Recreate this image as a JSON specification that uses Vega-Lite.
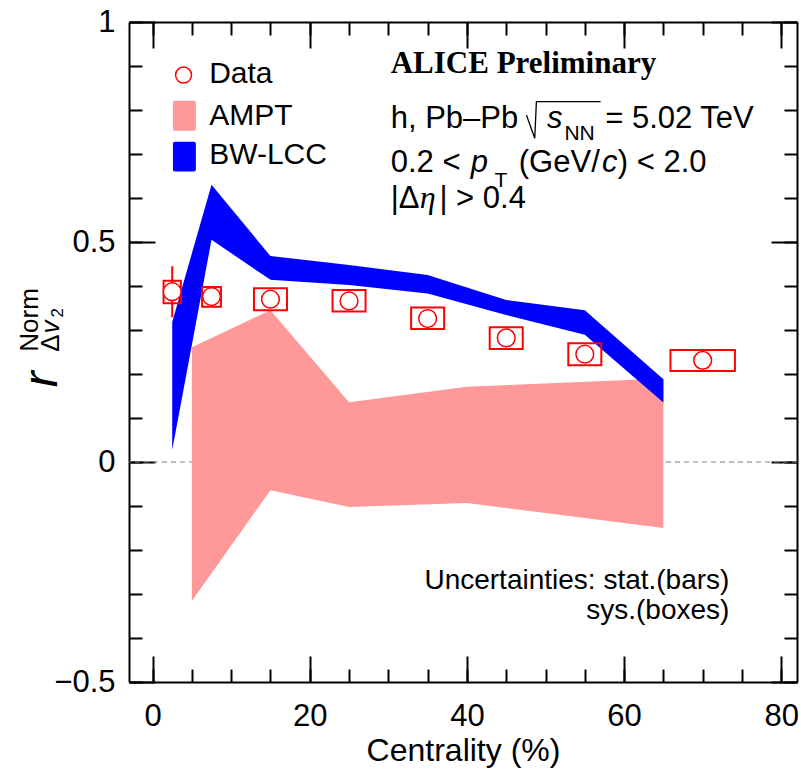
{
  "$schema": "https://vega.github.io/schema/vega-lite/v6.json",
  "width": 668,
  "height": 660,
  "autosize": {"type": "none"},
  "padding": {"left": 129, "top": 22, "right": 4, "bottom": 88},
  "background": "white",
  "config": {
    "view": {"stroke": null},
    "axis": {"grid": false, "domainColor": "black", "tickColor": "black", "domainWidth": 2, "tickWidth": 2, "labelFont": "Liberation Sans", "labelFontSize": 31, "labelColor": "black", "titleFont": "Liberation Sans", "titleFontSize": 32, "titleFontWeight": "normal", "titleColor": "black", "labelFlush": false, "labelOverlap": false, "labelBound": false}
  },
  "datasets": {
    "ampt": [
      {"x": 5, "lo": -0.316, "hi": 0.261},
      {"x": 15, "lo": -0.064, "hi": 0.345},
      {"x": 25, "lo": -0.102, "hi": 0.136},
      {"x": 40, "lo": -0.093, "hi": 0.171},
      {"x": 65, "lo": -0.15, "hi": 0.19}
    ],
    "bw": [
      {"x": 2.5, "lo": 0.027, "hi": 0.318},
      {"x": 7.5, "lo": 0.505, "hi": 0.63},
      {"x": 15, "lo": 0.414, "hi": 0.468},
      {"x": 25, "lo": 0.402, "hi": 0.448},
      {"x": 35, "lo": 0.383, "hi": 0.425},
      {"x": 45, "lo": 0.334, "hi": 0.368},
      {"x": 55, "lo": 0.289, "hi": 0.345},
      {"x": 65, "lo": 0.135, "hi": 0.188}
    ],
    "points": [
      {"x": 2.5, "y": 0.387, "xlo": 1.4, "xhi": 3.6, "slo": 0.361, "shi": 0.412, "elo": 0.329, "ehi": 0.445},
      {"x": 7.5, "y": 0.376, "xlo": 6.3, "xhi": 8.7, "slo": 0.353, "shi": 0.398, "elo": 0.356, "ehi": 0.396},
      {"x": 15, "y": 0.37, "xlo": 12.9, "xhi": 17.1, "slo": 0.345, "shi": 0.395, "elo": 0.36, "ehi": 0.38},
      {"x": 25, "y": 0.366, "xlo": 22.9, "xhi": 27.1, "slo": 0.342, "shi": 0.391, "elo": 0.356, "ehi": 0.376},
      {"x": 35, "y": 0.326, "xlo": 32.9, "xhi": 37.1, "slo": 0.302, "shi": 0.351, "elo": 0.316, "ehi": 0.336},
      {"x": 45, "y": 0.282, "xlo": 42.9, "xhi": 47.1, "slo": 0.257, "shi": 0.306, "elo": 0.272, "ehi": 0.292},
      {"x": 55, "y": 0.245, "xlo": 52.9, "xhi": 57.1, "slo": 0.22, "shi": 0.27, "elo": 0.235, "ehi": 0.255},
      {"x": 70, "y": 0.231, "xlo": 65.9, "xhi": 74.1, "slo": 0.207, "shi": 0.2545, "elo": 0.221, "ehi": 0.241}
    ]
  },
  "resolve": {"axis": {"x": "independent", "y": "independent"}},
  "layer": [
    {
      "data": {"values": [{"y": 0}]},
      "mark": {"type": "rule", "color": "#808080", "strokeDash": [5, 4], "strokeWidth": 1},
      "encoding": {"y": {"field": "y", "type": "quantitative", "scale": {"domain": [-0.5, 1], "nice": false, "zero": false}, "axis": null}}
    },
    {
      "data": {"name": "ampt"},
      "mark": {"type": "area", "color": "#ff9999", "opacity": 1},
      "encoding": {
        "x": {"field": "x", "type": "quantitative", "scale": {"domain": [-3, 82], "nice": false, "zero": false},
          "axis": {"orient": "bottom", "values": [0, 20, 40, 60, 80], "tickSize": -26, "labelPadding": 45, "format": "d", "title": "Centrality (%)", "titleY": 78, "titleBaseline": "alphabetic", "domain": true}},
        "y": {"field": "lo", "type": "quantitative", "scale": {"domain": [-0.5, 1], "nice": false, "zero": false},
          "axis": {"orient": "left", "values": [-0.5, 0, 0.5, 1], "tickSize": -26, "labelPadding": 40, "format": ".1~f", "title": null, "domain": true}},
        "y2": {"field": "hi"}
      }
    },
    {
      "data": {"name": "bw"},
      "mark": {"type": "area", "color": "#0000ff", "opacity": 1},
      "encoding": {
        "x": {"field": "x", "type": "quantitative", "scale": {"domain": [-3, 82], "nice": false, "zero": false},
          "axis": {"orient": "bottom", "values": [0, 5, 10, 15, 20, 25, 30, 35, 40, 45, 50, 55, 60, 65, 70, 75, 80], "tickSize": -13, "labels": false, "domain": false, "title": null}},
        "y": {"field": "lo", "type": "quantitative", "scale": {"domain": [-0.5, 1], "nice": false, "zero": false},
          "axis": {"orient": "left", "values": [-0.5, -0.4, -0.3, -0.2, -0.1, 0, 0.1, 0.2, 0.3, 0.4, 0.5, 0.6, 0.7, 0.8, 0.9, 1], "tickSize": -13, "labels": false, "domain": false, "title": null}},
        "y2": {"field": "hi"}
      }
    },
    {
      "data": {"name": "points"},
      "mark": {"type": "rect", "filled": false, "color": "#ff0000", "strokeWidth": 2},
      "encoding": {
        "x": {"field": "xlo", "type": "quantitative", "scale": {"domain": [-3, 82], "nice": false, "zero": false},
          "axis": {"orient": "top", "values": [0, 20, 40, 60, 80], "tickSize": -26, "labels": false, "domain": true, "title": null}},
        "x2": {"field": "xhi"},
        "y": {"field": "slo", "type": "quantitative", "scale": {"domain": [-0.5, 1], "nice": false, "zero": false},
          "axis": {"orient": "right", "values": [-0.5, 0, 0.5, 1], "tickSize": -26, "labels": false, "domain": true, "title": null}},
        "y2": {"field": "shi"}
      }
    },
    {
      "data": {"name": "points"},
      "mark": {"type": "rule", "color": "#ff0000", "strokeWidth": 2},
      "encoding": {
        "x": {"field": "x", "type": "quantitative", "scale": {"domain": [-3, 82], "nice": false, "zero": false},
          "axis": {"orient": "top", "values": [0, 5, 10, 15, 20, 25, 30, 35, 40, 45, 50, 55, 60, 65, 70, 75, 80], "tickSize": -13, "labels": false, "domain": false, "title": null}},
        "y": {"field": "elo", "type": "quantitative", "scale": {"domain": [-0.5, 1], "nice": false, "zero": false},
          "axis": {"orient": "right", "values": [-0.5, -0.4, -0.3, -0.2, -0.1, 0, 0.1, 0.2, 0.3, 0.4, 0.5, 0.6, 0.7, 0.8, 0.9, 1], "tickSize": -13, "labels": false, "domain": false, "title": null}},
        "y2": {"field": "ehi"}
      }
    },
    {
      "data": {"name": "points"},
      "mark": {"type": "point", "shape": "circle", "size": 314, "filled": true, "fill": "white", "stroke": "#ff0000", "strokeWidth": 1.5, "opacity": 1},
      "encoding": {
        "x": {"field": "x", "type": "quantitative", "scale": {"domain": [-3, 82], "nice": false, "zero": false}, "axis": null},
        "y": {"field": "y", "type": "quantitative", "scale": {"domain": [-0.5, 1], "nice": false, "zero": false}, "axis": null}
      }
    },
    {
      "data": {"values": [
        {"name": "AMPT", "x": 2.59, "x2": 5.51, "y": 0.753, "y2": 0.821},
        {"name": "BW-LCC", "x": 2.59, "x2": 5.51, "y": 0.66, "y2": 0.728}
      ]},
      "mark": {"type": "rect", "cornerRadius": 2},
      "encoding": {
        "x": {"field": "x", "type": "quantitative", "scale": {"domain": [-3, 82], "nice": false, "zero": false}, "axis": null},
        "x2": {"field": "x2"},
        "y": {"field": "y", "type": "quantitative", "scale": {"domain": [-0.5, 1], "nice": false, "zero": false}, "axis": null},
        "y2": {"field": "y2"},
        "color": {"field": "name", "type": "nominal", "scale": {"domain": ["AMPT", "BW-LCC"], "range": ["#ff9999", "#0000ff"]}, "legend": null}
      }
    },
    {
      "data": {"values": [{"x": 3.94, "y": 0.8795}]},
      "mark": {"type": "point", "shape": "circle", "size": 254, "filled": false, "stroke": "#ff0000", "strokeWidth": 1.5, "opacity": 1},
      "encoding": {
        "x": {"field": "x", "type": "quantitative", "scale": {"domain": [-3, 82], "nice": false, "zero": false}, "axis": null},
        "y": {"field": "y", "type": "quantitative", "scale": {"domain": [-0.5, 1], "nice": false, "zero": false}, "axis": null}
      }
    },
    {
      "data": {"values": [{"x": 47.57, "y": 0.7886, "o": 1}, {"x": 48.63, "y": 0.7357, "o": 2}, {"x": 48.84, "y": 0.8189, "o": 3}, {"x": 57.01, "y": 0.8189, "o": 4}]},
      "mark": {"type": "line", "color": "black", "strokeWidth": 1.3},
      "encoding": {
        "x": {"field": "x", "type": "quantitative", "scale": {"domain": [-3, 82], "nice": false, "zero": false}, "axis": null},
        "y": {"field": "y", "type": "quantitative", "scale": {"domain": [-0.5, 1], "nice": false, "zero": false}, "axis": null},
        "order": {"field": "o", "type": "quantitative"}
      }
    },
    {
      "data": {"values": [
        {"x": 7.2, "y": 0.8607, "t": "Data"},
        {"x": 7.2, "y": 0.7659, "t": "AMPT"},
        {"x": 7.2, "y": 0.6773, "t": "BW-LCC"}
      ]},
      "mark": {"type": "text", "font": "Liberation Sans", "fontSize": 30, "align": "left", "baseline": "alphabetic", "color": "black"},
      "encoding": {
        "x": {"field": "x", "type": "quantitative", "scale": {"domain": [-3, 82], "nice": false, "zero": false}, "axis": null},
        "y": {"field": "y", "type": "quantitative", "scale": {"domain": [-0.5, 1], "nice": false, "zero": false}, "axis": null},
        "text": {"field": "t"}
      }
    },
    {
      "data": {"values": [
        {"x": 30.3, "y": 0.7584, "t": "h, Pb–Pb"},
        {"x": 57.6, "y": 0.7584, "t": "= 5.02 TeV"},
        {"x": 30.3, "y": 0.6598, "t": "0.2 <"},
        {"x": 46.6, "y": 0.6598, "t": "(GeV/"},
        {"x": 59.2, "y": 0.6598, "t": ") < 2.0"},
        {"x": 30.3, "y": 0.5766, "t": "|Δ"},
        {"x": 36.5, "y": 0.5766, "t": "| > 0.4"}
      ]},
      "mark": {"type": "text", "font": "Liberation Sans", "fontSize": 31, "align": "left", "baseline": "alphabetic", "color": "black"},
      "encoding": {
        "x": {"field": "x", "type": "quantitative", "scale": {"domain": [-3, 82], "nice": false, "zero": false}, "axis": null},
        "y": {"field": "y", "type": "quantitative", "scale": {"domain": [-0.5, 1], "nice": false, "zero": false}, "axis": null},
        "text": {"field": "t"}
      }
    },
    {
      "data": {"values": [
        {"x": 50.2, "y": 0.7584, "t": "s"},
        {"x": 40.5, "y": 0.6598, "t": "p"},
        {"x": 57.2, "y": 0.6598, "t": "c"}
      ]},
      "mark": {"type": "text", "font": "Liberation Sans", "fontStyle": "italic", "fontSize": 31, "align": "left", "baseline": "alphabetic", "color": "black"},
      "encoding": {
        "x": {"field": "x", "type": "quantitative", "scale": {"domain": [-3, 82], "nice": false, "zero": false}, "axis": null},
        "y": {"field": "y", "type": "quantitative", "scale": {"domain": [-0.5, 1], "nice": false, "zero": false}, "axis": null},
        "text": {"field": "t"}
      }
    },
    {
      "data": {"values": [
        {"x": 52.4, "y": 0.7318, "t": "NN"},
        {"x": 43.5, "y": 0.6257, "t": "T"}
      ]},
      "mark": {"type": "text", "font": "Liberation Sans", "fontSize": 21, "align": "left", "baseline": "alphabetic", "color": "black"},
      "encoding": {
        "x": {"field": "x", "type": "quantitative", "scale": {"domain": [-3, 82], "nice": false, "zero": false}, "axis": null},
        "y": {"field": "y", "type": "quantitative", "scale": {"domain": [-0.5, 1], "nice": false, "zero": false}, "axis": null},
        "text": {"field": "t"}
      }
    },
    {
      "data": {"values": [{"x": 34.0, "y": 0.5766, "t": "η"}]},
      "mark": {"type": "text", "font": "Liberation Serif", "fontStyle": "italic", "fontSize": 32, "align": "left", "baseline": "alphabetic", "color": "black"},
      "encoding": {
        "x": {"field": "x", "type": "quantitative", "scale": {"domain": [-3, 82], "nice": false, "zero": false}, "axis": null},
        "y": {"field": "y", "type": "quantitative", "scale": {"domain": [-0.5, 1], "nice": false, "zero": false}, "axis": null},
        "text": {"field": "t"}
      }
    },
    {
      "data": {"values": [{"x": 30.3, "y": 0.884, "t": "ALICE Preliminary"}]},
      "mark": {"type": "text", "font": "Liberation Serif", "fontWeight": "bold", "fontSize": 31, "align": "left", "baseline": "alphabetic", "color": "black"},
      "encoding": {
        "x": {"field": "x", "type": "quantitative", "scale": {"domain": [-3, 82], "nice": false, "zero": false}, "axis": null},
        "y": {"field": "y", "type": "quantitative", "scale": {"domain": [-0.5, 1], "nice": false, "zero": false}, "axis": null},
        "text": {"field": "t"}
      }
    },
    {
      "data": {"values": [
        {"x": 73.4, "y": -0.2893, "t": "Uncertainties: stat.(bars)"},
        {"x": 73.4, "y": -0.356, "t": "sys.(boxes)"}
      ]},
      "mark": {"type": "text", "font": "Liberation Sans", "fontSize": 28, "align": "right", "baseline": "alphabetic", "color": "black"},
      "encoding": {
        "x": {"field": "x", "type": "quantitative", "scale": {"domain": [-3, 82], "nice": false, "zero": false}, "axis": null},
        "y": {"field": "y", "type": "quantitative", "scale": {"domain": [-0.5, 1], "nice": false, "zero": false}, "axis": null},
        "text": {"field": "t"}
      }
    },
    {
      "data": {"values": [{"x": -14.0, "y": 0.188, "t": "r"}]},
      "mark": {"type": "text", "font": "Liberation Sans", "fontStyle": "italic", "fontSize": 48, "angle": 270, "align": "center", "baseline": "middle", "color": "black"},
      "encoding": {
        "x": {"field": "x", "type": "quantitative", "scale": {"domain": [-3, 82], "nice": false, "zero": false}, "axis": null},
        "y": {"field": "y", "type": "quantitative", "scale": {"domain": [-0.5, 1], "nice": false, "zero": false}, "axis": null},
        "text": {"field": "t"}
      }
    },
    {
      "data": {"values": [{"x": -15.6, "y": 0.323, "t": "Norm"}, {"x": -12.9, "y": 0.2705, "t": "Δ"}]},
      "mark": {"type": "text", "font": "Liberation Sans", "fontSize": 26, "angle": 270, "align": "center", "baseline": "middle", "color": "black"},
      "encoding": {
        "x": {"field": "x", "type": "quantitative", "scale": {"domain": [-3, 82], "nice": false, "zero": false}, "axis": null},
        "y": {"field": "y", "type": "quantitative", "scale": {"domain": [-0.5, 1], "nice": false, "zero": false}, "axis": null},
        "text": {"field": "t"}
      }
    },
    {
      "data": {"values": [{"x": -12.9, "y": 0.307, "t": "v"}]},
      "mark": {"type": "text", "font": "Liberation Sans", "fontStyle": "italic", "fontSize": 26, "angle": 270, "align": "center", "baseline": "middle", "color": "black"},
      "encoding": {
        "x": {"field": "x", "type": "quantitative", "scale": {"domain": [-3, 82], "nice": false, "zero": false}, "axis": null},
        "y": {"field": "y", "type": "quantitative", "scale": {"domain": [-0.5, 1], "nice": false, "zero": false}, "axis": null},
        "text": {"field": "t"}
      }
    },
    {
      "data": {"values": [{"x": -12.0, "y": 0.339, "t": "2"}]},
      "mark": {"type": "text", "font": "Liberation Sans", "fontSize": 17, "angle": 270, "align": "center", "baseline": "middle", "color": "black"},
      "encoding": {
        "x": {"field": "x", "type": "quantitative", "scale": {"domain": [-3, 82], "nice": false, "zero": false}, "axis": null},
        "y": {"field": "y", "type": "quantitative", "scale": {"domain": [-0.5, 1], "nice": false, "zero": false}, "axis": null},
        "text": {"field": "t"}
      }
    }
  ]
}
